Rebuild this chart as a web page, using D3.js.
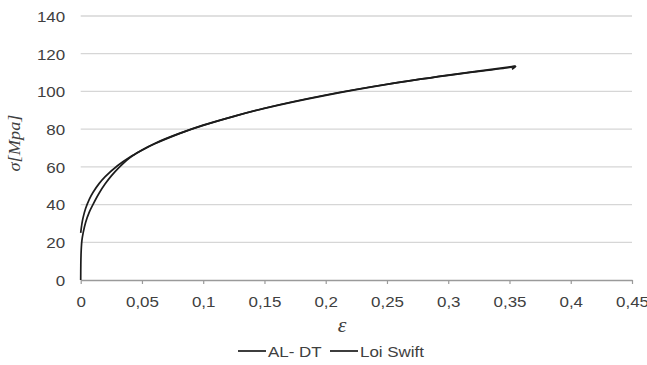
<!DOCTYPE html>
<html><head><meta charset="utf-8">
<script src="https://cdn.jsdelivr.net/npm/d3@7"></script>
<style>
body{margin:0;background:#fff;}
svg{display:block;}
text{font-family:"Liberation Sans",Arial,sans-serif;fill:#404040;}
</style></head><body>
<svg id="c" width="647" height="365"></svg>
<script>
// ---- data ----
const yTicks = [0,20,40,60,80,100,120,140];
const xTicks = [0,0.05,0.1,0.15,0.2,0.25,0.3,0.35,0.4,0.45];
const xTickLabels = ["0","0,05","0,1","0,15","0,2","0,25","0,3","0,35","0,4","0,45"];
const seriesNames = ["AL- DT","Loi Swift"];
// AL-DT (experimental)
const strainExp = [0,0.0001,0.0003,0.0006,0.001,0.002,0.004,0.007,0.01,0.015,0.02,0.025,0.03,0.035,0.04,0.045,0.05,0.06,0.08,0.1,0.125,0.15,0.2,0.25,0.3,0.35,0.355,0.352];
const stressExp = [0,8,14,18,21,25,30.5,36,40,46,51,55.2,58.8,62,64.8,67,69,72.3,77.6,82.0,86.8,91.1,98.1,103.8,108.5,112.7,113.3,111.8];
// Loi Swift
const strainSwift = [0,0.001,0.002,0.004,0.007,0.01,0.015,0.02,0.03,0.04,0.05,0.06,0.08,0.1,0.125,0.15,0.2,0.25,0.3,0.355];
const stressSwift = [25.0,29.9,33.2,37.9,42.8,46.4,51.1,54.8,60.6,65.1,68.8,72.1,77.5,82.1,86.8,91.0,97.9,103.7,108.6,113.4];

const SX = 1.13; // horizontal text stretch of the reference
const svg = d3.select("#c");
const x = d3.scaleLinear().domain([0,0.45]).range([80.7,632]);
const y = d3.scaleLinear().domain([0,140]).range([280,16]);

// gridlines
svg.append("g").selectAll("line").data(yTicks.filter(d=>d>0)).join("line")
  .attr("x1",x(0)).attr("x2",x(0.45))
  .attr("y1",d=>y(d)).attr("y2",d=>y(d))
  .attr("stroke","#d6d6d6").attr("stroke-width",1.3);

// y axis labels (no axis line)
const yAxis = svg.append("g").attr("transform",`translate(${x(0)},0)`)
  .call(d3.axisLeft(y).tickValues(yTicks).tickSize(0).tickPadding(0));
yAxis.select(".domain").remove();
yAxis.selectAll("text").attr("x",-15.5/SX).attr("dy","0.36em")
  .style("font-size","15px").style("font-family","Liberation Sans, Arial, sans-serif")
  .attr("fill","#404040").attr("transform",`scale(${SX},1)`);

// x axis
const xAxis = svg.append("g").attr("transform",`translate(0,${y(0)})`)
  .call(d3.axisBottom(x).tickValues(xTicks).tickFormat((d,i)=>xTickLabels[i]).tickSize(4).tickPadding(0).tickSizeOuter(0));
xAxis.select(".domain").attr("stroke","#9a9a9a").attr("stroke-width",1.3);
xAxis.selectAll(".tick line").attr("stroke","#9a9a9a").attr("stroke-width",1.2);
xAxis.selectAll("text").attr("y",27.5).attr("dy",0)
  .style("font-size","15px").style("font-family","Liberation Sans, Arial, sans-serif")
  .attr("fill","#404040").attr("transform",`scale(${SX},1)`);

// curves
const line = d3.line().x(d=>x(d[0])).y(d=>y(d[1])).curve(d3.curveCatmullRom.alpha(0.5));
const expPts = strainExp.map((e,i)=>[e,stressExp[i]]);
const swPts = strainSwift.map((e,i)=>[e,stressSwift[i]]);
svg.append("path").attr("d",line(swPts)).attr("fill","none").attr("stroke","#1c1c1c").attr("stroke-width",1.7);
svg.append("path").attr("d",line(expPts)).attr("fill","none").attr("stroke","#1c1c1c").attr("stroke-width",1.7);

// axis titles
svg.append("text").attr("x",342).attr("y",332).attr("text-anchor","middle")
  .style("font-family","Liberation Serif, serif").style("font-style","italic").style("font-size","22px")
  .attr("fill","#222").text("ε");
svg.append("text").attr("transform","translate(20,143) rotate(-90)").attr("text-anchor","middle")
  .style("font-family","Liberation Serif, serif").style("font-style","italic").style("font-size","16px")
  .attr("textLength",57).attr("lengthAdjust","spacingAndGlyphs")
  .attr("fill","#222").text("σ[Mpa]");

// legend
const legX = [238,330];
const leg = svg.append("g");
seriesNames.forEach((n,i)=>{
  leg.append("line").attr("x1",legX[i]).attr("x2",legX[i]+28).attr("y1",351).attr("y2",351)
    .attr("stroke","#1c1c1c").attr("stroke-width",1.7);
  leg.append("text").attr("transform",`translate(${legX[i]+30},356.5) scale(${SX},1)`)
    .style("font-size","15px").attr("fill","#404040").text(n);
});
</script>
</body></html>
